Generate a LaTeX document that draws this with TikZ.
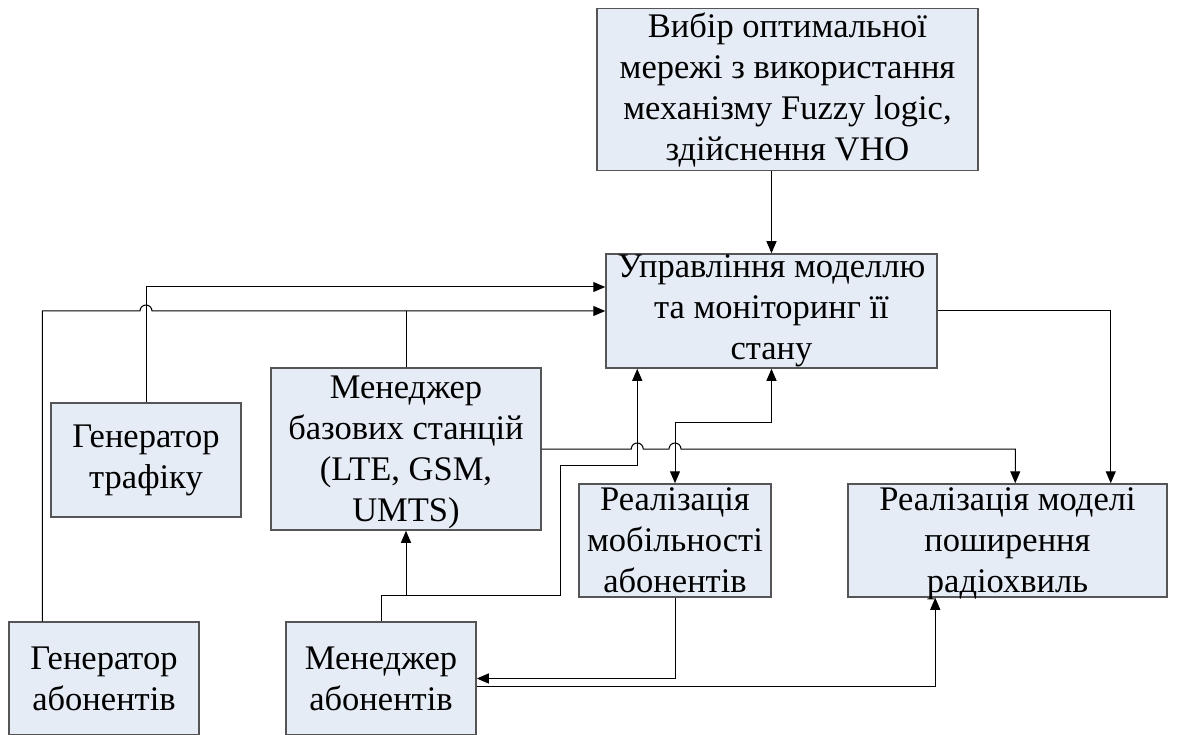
\documentclass[tikz,border=0pt]{standalone}
\usepackage{fontspec}
\setmainfont{Liberation Serif}
\usetikzlibrary{arrows.meta,calc}
\definecolor{boxfill}{HTML}{E6ECF6}
\definecolor{boxline}{HTML}{555555}
% centred lines of text, set a little lower than the block centre
\newcommand{\lowtext}[3]{\raisebox{-#1}[\height][\depth]{\parbox{#2}{\centering #3}}}
\begin{document}
\begin{tikzpicture}[x=1pt,y=-1pt,
  blk/.style={draw=boxline, line width=1.5pt, fill=boxfill, inner sep=0pt,
    align=center, font=\fontsize{34.5}{41}\selectfont},
  wire/.style={line width=1pt, draw=black},
  arr/.style={wire, -{Triangle[length=12pt,width=10pt]}},
  darr/.style={wire, {Triangle[length=12pt,width=10pt]}-{Triangle[length=12pt,width=10pt]}}]
\useasboundingbox (0,0) rectangle (1181,735);

% blocks
\node[blk, minimum width=381pt, minimum height=162pt] (sel) at (787.5,89.5)
  {Вибір оптимальної\\мережі з використання\\механізму Fuzzy logic,\\здійснення VHO};
\node[blk, minimum width=331pt, minimum height=114pt] (mgmt) at (771.5,311)
  {Управління моделлю\\та моніторинг її\\стану};
\node[blk, minimum width=270pt, minimum height=162pt] (bs) at (406,449)
  {\lowtext{3pt}{260pt}{Менеджер\\базових станцій\\(LTE, GSM,\\UMTS)}};
\node[blk, minimum width=190pt, minimum height=114pt] (traffic) at (146,460)
  {Генератор\\трафіку};
\node[blk, minimum width=192pt, minimum height=113pt] (mob) at (675,540.5)
  {Реалізація\\мобільності\\абонентів};
\node[blk, minimum width=319pt, minimum height=113pt] (radio) at (1007.5,540.5)
  {\lowtext{3.5pt}{310pt}{Реалізація моделі\\поширення\\радіохвиль}};
\node[blk, minimum width=190pt, minimum height=113pt] (gen) at (104,678.5)
  {Генератор\\абонентів};
\node[blk, minimum width=190pt, minimum height=113pt] (man) at (381,678.5)
  {Менеджер\\абонентів};

% helper points on block edges and bends
\coordinate (inA) at ($(mgmt.west)+(0,-24)$);
\coordinate (g1) at ($(gen.north west)+(34,0)$);
\coordinate (upL) at ($(mgmt.south west)+(32,0)$);
\coordinate (rIn) at ($(radio.north west)+(168,0)$);
\coordinate (rOut) at ($(radio.north east)+(-57,0)$);
\coordinate (rBot) at ($(radio.south west)+(88,0)$);
\coordinate (m1) at ($(man.north)+(0,-26)$);
\coordinate (bendA) at (560,465);
\coordinate (mobTurn) at ($(mob.north)+(0,-61)$);

% selection -> management
\draw[arr] (sel.south -| mgmt.north) -- (mgmt.north);

% traffic generator -> management
\draw[arr] (traffic.north) |- (inA);

% subscriber generator -> management, hopping over the traffic line
\draw[arr] (g1) |- ($(traffic.north |- mgmt.west)+(-6,0)$)
  arc[start angle=180, end angle=0, radius=6pt] -- (mgmt.west);

% base station manager joins the same input
\draw[wire] (bs.north) -- (bs.north |- mgmt.west);

% management -> propagation model
\draw[arr] (mgmt.east) -| (rOut);

% base station manager -> propagation model, hopping over two lines
\draw[arr] (bs.east) -- ($(upL |- bs.east)+(-6,0)$)
  arc[start angle=180, end angle=0, radius=6pt]
  -- ($(mob.north |- bs.east)+(-6,0)$)
  arc[start angle=180, end angle=0, radius=6pt] -| (rIn);

% management <-> mobility
\draw[darr] (mgmt.south) |- (mobTurn) -- (mob.north);

% subscriber manager -> management and base station manager
\draw[arr] (man.north) -- (m1) -| (bendA) -| (upL);
\draw[arr] (m1 -| bs.south) -- (bs.south);

% mobility -> subscriber manager
\draw[arr] (mob.south) |- (man.east);

% subscriber manager -> propagation model
\draw[arr] ($(man.east)+(0,8)$) -| (rBot);
\end{tikzpicture}
\end{document}
